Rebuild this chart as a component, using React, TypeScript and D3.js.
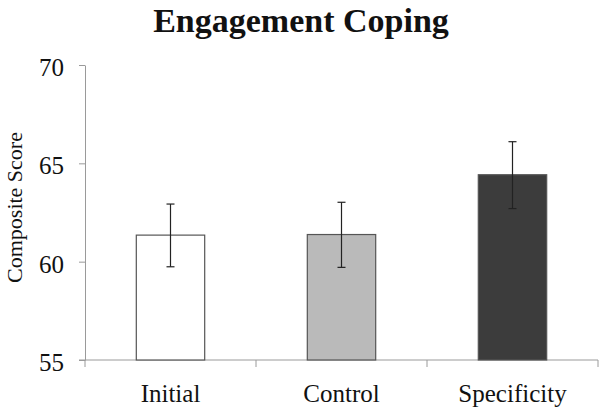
import { useEffect, useRef } from 'react';
import * as d3 from 'd3';

const categories = ['Initial', 'Control', 'Specificity'];
const means = [61.35, 61.38, 64.42];
const errLow = [59.74, 59.71, 62.7];
const errHigh = [62.93, 63.02, 66.1];
const fills = ['#ffffff', '#bababa', '#3c3c3c'];
const yTicks = [55, 60, 65, 70];

const W = 600;
const H = 409;

export default function App() {
  const svgRef = useRef<SVGSVGElement>(null);

  useEffect(() => {
    if (!svgRef.current) return;
    const svg = d3.select(svgRef.current);
    svg.selectAll('*').remove();

    const font = '"Liberation Serif", "Times New Roman", serif';
    const x = d3.scaleBand<string>().domain(categories).range([85, 598]).padding(0);
    const y = d3.scaleLinear().domain([55, 70]).range([360, 65]);
    const barW = x.bandwidth() * 0.4;

    svg.append('rect').attr('width', W).attr('height', H).attr('fill', 'white');

    // title
    svg.append('text')
      .attr('x', 301).attr('y', 32)
      .attr('text-anchor', 'middle')
      .attr('font-family', font).attr('font-weight', 'bold').attr('font-size', 34)
      .attr('fill', '#111')
      .text('Engagement Coping');

    // y axis
    const yAxis = svg.append('g').attr('transform', 'translate(85,0)')
      .call(d3.axisLeft(y).tickValues(yTicks).tickSize(6).tickSizeOuter(0).tickPadding(15));
    yAxis.attr('font-family', font);
    yAxis.select('.domain').attr('stroke', '#9a9a9a');
    yAxis.selectAll('.tick line').attr('stroke', '#9a9a9a');
    yAxis.selectAll('.tick text')
      .attr('font-family', font).attr('font-size', 25).attr('fill', '#111').attr('dy', '0.42em');

    // y axis title
    svg.append('text')
      .attr('transform', `translate(22,${(y(55) + y(70)) / 2 - 5}) rotate(-90)`)
      .attr('text-anchor', 'middle')
      .attr('font-family', font).attr('font-size', 22).attr('fill', '#111')
      .text('Composite Score');

    // x axis
    const xAxisG = svg.append('g');
    xAxisG.append('line')
      .attr('x1', 79).attr('x2', 598).attr('y1', y(55)).attr('y2', y(55))
      .attr('stroke', '#9a9a9a');
    const bounds = [...categories.map((c) => x(c) ?? 0), (x(categories[categories.length - 1]) ?? 0) + x.bandwidth()];
    xAxisG.selectAll('.xt').data(bounds).enter().append('line')
      .attr('x1', (d) => d).attr('x2', (d) => d)
      .attr('y1', y(55)).attr('y2', y(55) + 7)
      .attr('stroke', '#9a9a9a');
    xAxisG.selectAll('.xl').data(categories).enter().append('text')
      .attr('x', (d) => (x(d) ?? 0) + x.bandwidth() / 2)
      .attr('y', 402)
      .attr('text-anchor', 'middle')
      .attr('font-family', font).attr('font-size', 25).attr('fill', '#111')
      .text((d) => d);

    // bars
    svg.selectAll('.bar').data(categories).enter().append('rect')
      .attr('x', (d) => (x(d) ?? 0) + (x.bandwidth() - barW) / 2)
      .attr('y', (_, i) => y(means[i]))
      .attr('width', barW)
      .attr('height', (_, i) => y(55) - y(means[i]))
      .attr('fill', (_, i) => fills[i])
      .attr('stroke', '#555').attr('stroke-width', 1.2);

    // error bars
    const cx = (d: string) => (x(d) ?? 0) + x.bandwidth() / 2;
    const eb = svg.append('g').attr('stroke', '#222').attr('stroke-width', 1.2);
    categories.forEach((c, i) => {
      const xc = cx(c);
      eb.append('line').attr('x1', xc).attr('x2', xc).attr('y1', y(errLow[i])).attr('y2', y(errHigh[i]));
      eb.append('line').attr('x1', xc - 4).attr('x2', xc + 4).attr('y1', y(errLow[i])).attr('y2', y(errLow[i]));
      eb.append('line').attr('x1', xc - 4).attr('x2', xc + 4).attr('y1', y(errHigh[i])).attr('y2', y(errHigh[i]));
    });
  }, []);

  return (
    <svg
      ref={svgRef}
      width={W}
      height={H}
      style={{ position: 'fixed', left: 0, top: 0, display: 'block' }}
    />
  );
}
